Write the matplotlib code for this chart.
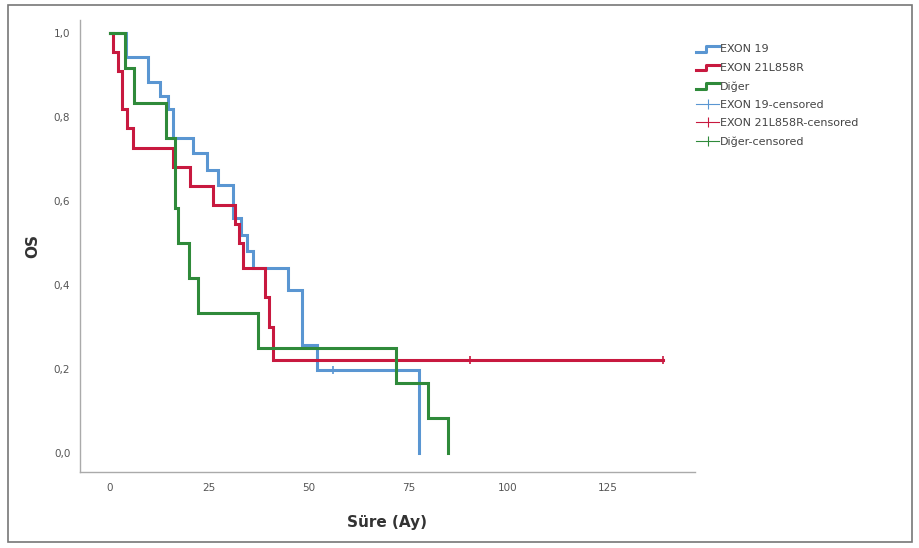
import matplotlib
matplotlib.use("Agg")
import matplotlib.pyplot as plt
from matplotlib.lines import Line2D
from matplotlib.legend_handler import HandlerBase
from matplotlib.patches import Rectangle
from matplotlib.ticker import FuncFormatter

# step curves (time in months, survival after the step)
exon19_t = [0, 4, 9.5, 12.6, 14.5, 15.8, 21, 24.3, 27.2, 31, 33, 34.5, 36, 44.7, 48.2, 52, 77.6]
exon19_s = [1.0, 0.944, 0.884, 0.85, 0.82, 0.75, 0.714, 0.674, 0.638, 0.56, 0.52, 0.48, 0.44, 0.388, 0.257, 0.198, 0.0]
exon19_end = 77.6
exon19_cens = [56]

exon21_t = [0, 0.8, 2.0, 3.0, 4.3, 5.8, 15.9, 20.1, 25.9, 31.5, 32.5, 33.5, 39, 40, 41]
exon21_s = [1.0, 0.955, 0.909, 0.82, 0.773, 0.727, 0.682, 0.636, 0.591, 0.545, 0.5, 0.44, 0.371, 0.30, 0.221]
exon21_end = 139
exon21_cens = [90.5, 139]

diger_t = [0, 3.8, 6.0, 14.0, 16.3, 17.0, 20.0, 22.1, 37.2, 72.0, 80.0, 85.0]
diger_s = [1.0, 0.917, 0.833, 0.75, 0.583, 0.5, 0.417, 0.333, 0.25, 0.167, 0.083, 0.0]
diger_end = 85.0
diger_cens = []

names = ["EXON 19", "EXON 21L858R", "Diğer"]
colors = ["#5a96d2", "#c8193f", "#2f8a3a"]


class StepHandler(HandlerBase):
    def create_artists(self, legend, orig, xd, yd, w, h, fontsize, trans):
        xs = [xd, xd + w * 0.45, xd + w * 0.45, xd + w]
        ys = [yd + h * 0.1, yd + h * 0.1, yd + h * 0.8, yd + h * 0.8]
        ln = Line2D(xs, ys, color=orig.get_color(), lw=2.2, transform=trans)
        return [ln]


class CrossHandler(HandlerBase):
    def create_artists(self, legend, orig, xd, yd, w, h, fontsize, trans):
        ln = Line2D([xd, xd + w], [yd + h / 2, yd + h / 2], color=orig.get_color(),
                    lw=0.8, transform=trans)
        tk = Line2D([xd + w / 2], [yd + h / 2], marker="|", ms=7, mew=0.8,
                    color=orig.get_color(), transform=trans)
        return [ln, tk]


fig = plt.figure(figsize=(9.2, 5.48), dpi=100)
ax = fig.add_axes([80 / 920, 1 - 472 / 548, 615 / 920, 452 / 548])

curves = [(exon19_t, exon19_s, exon19_end, exon19_cens),
          (exon21_t, exon21_s, exon21_end, exon21_cens),
          (diger_t, diger_s, diger_end, diger_cens)]

step_handles = []
cross_handles = []
for (t, s, end, cens), c, nm in zip(curves, colors, names):
    xs = list(t) + [end]
    ys = list(s) + [s[-1]]
    ax.step(xs, ys, where="post", color=c, lw=2.2, solid_joinstyle="miter")
    for ct in cens:
        # survival at the censored time
        lvl = [v for tt, v in zip(t, s) if tt <= ct][-1]
        ax.plot([ct], [lvl], marker="|", ms=6, mew=1.2, color=c)
    step_handles.append(Line2D([], [], color=c))
    cross_handles.append(Line2D([], [], color=c))

ax.set_xlim(-7.5, 147)
ax.set_ylim(-0.045, 1.031)
ax.set_xticks([0, 25, 50, 75, 100, 125])
ax.set_yticks([0, 0.2, 0.4, 0.6, 0.8, 1.0])
ax.yaxis.set_major_formatter(FuncFormatter(lambda v, p: f"{v:.1f}".replace(".", ",")))
ax.tick_params(length=0, labelsize=7.5, labelcolor="#555555")
ax.tick_params(axis="x", pad=8)
ax.tick_params(axis="y", pad=7)
for sp in ["top", "right"]:
    ax.spines[sp].set_visible(False)
for sp in ["left", "bottom"]:
    ax.spines[sp].set_color("#aaaaaa")
    ax.spines[sp].set_linewidth(1.0)

ax.set_xlabel("Süre (Ay)", fontsize=11, fontweight="bold", color="#333333", labelpad=16)
ax.set_ylabel("OS", fontsize=11, fontweight="bold", color="#333333", labelpad=10)

leg = fig.legend(step_handles + cross_handles,
                 names + [n + "-censored" for n in names],
                 handler_map={h: StepHandler() for h in step_handles} |
                             {h: CrossHandler() for h in cross_handles},
                 loc="upper left", bbox_to_anchor=(692 / 920, 1 - 40 / 548),
                 frameon=False, fontsize=8, handlelength=2.0, handletextpad=0.1,
                 labelspacing=0.75, borderaxespad=0)
for tx in leg.get_texts():
    tx.set_color("#444444")

fig.patches.append(Rectangle((8 / 920, 1 - 542 / 548), 904 / 920, 537 / 548,
                             transform=fig.transFigure, fill=False,
                             edgecolor="#777777", lw=1.2))

fig.savefig("out.png", dpi=100)
